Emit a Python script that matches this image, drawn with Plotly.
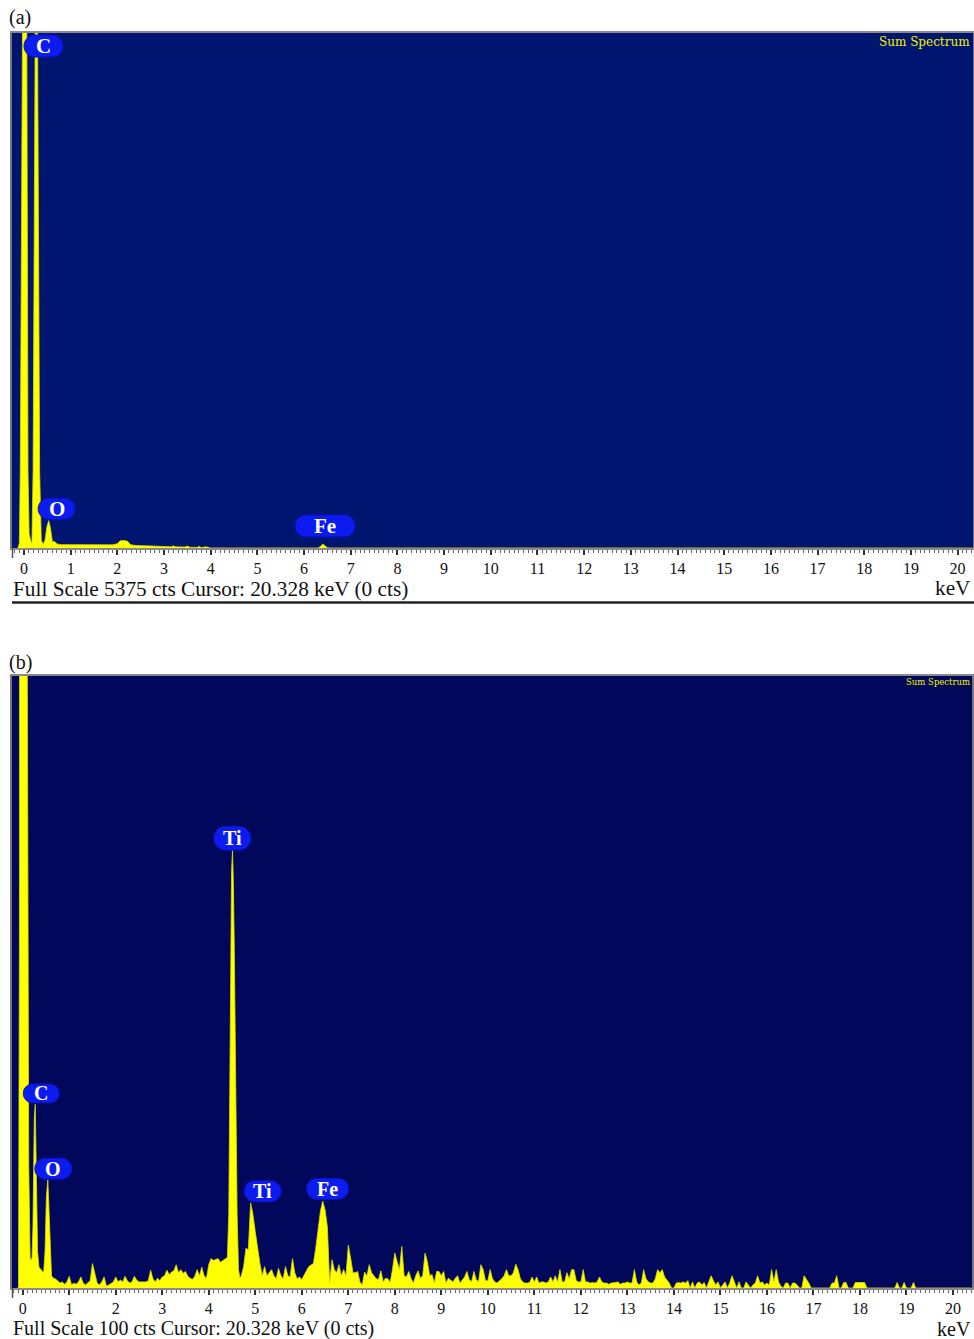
import plotly.graph_objects as go

W, H = 974, 1339

# ---------------- Panel (a): full scale 5375 cts ----------------
energy_a = [-0.13, -0.10, -0.08, -0.04, 0.01, 0.06, 0.086, 0.11, 0.15, 0.17,
            0.195, 0.24, 0.265, 0.29, 0.335, 0.37, 0.41, 0.45, 0.49, 0.53,
            0.57, 0.61, 0.64, 0.67, 0.72, 0.80, 1.00, 1.30, 1.60, 1.90,
            2.00, 2.06, 2.14, 2.22, 2.28, 2.40, 2.70, 3.00, 3.15, 3.20,
            3.25, 3.45, 3.50, 3.55, 3.70, 3.75, 3.80, 3.90, 3.95, 4.00,
            6.30, 6.35, 6.40, 6.45, 6.50, 6.55, 20.40]
counts_a = [0, 50, 800, 5400, 9500, 5400, 800, 150, 60, 60,
            800, 5375, 7900, 5375, 800, 80, 40, 80, 220, 285,
            200, 60, 70, 60, 40, 35, 35, 34, 33, 33,
            45, 75, 78, 70, 35, 25, 22, 18, 12, 22,
            12, 10, 20, 8, 6, 15, 5, 12, 3, 0,
            0, 15, 42, 20, 3, 0, 0]

# ---------------- Panel (b): full scale 100 cts ----------------
energy_b_low = [-0.12, -0.09, -0.07, -0.05, 0.00, 0.06, 0.10, 0.13, 0.16, 0.18,
                0.20, 0.22, 0.25, 0.27, 0.29, 0.32, 0.35, 0.40, 0.45, 0.48,
                0.51, 0.54, 0.56, 0.59, 0.62, 0.66]
counts_b_low = [0, 0, 60, 400, 3000, 400, 100, 20, 5, 4.5,
                5, 10, 28, 30, 20, 6, 3.4, 3.0, 2.5, 6,
                15, 17.7, 14, 6, 2, 1.6]

channel_width = 0.05  # keV per channel

bg1_start = 0.70
counts_b_bg1 = [1.5, 1.2, 0.8, 1.0, 0.6, 1.0,                              # 0.70-0.95
                1.9, 0.5, 0.8, 0.6, 1.0, 1.8, 0.8, 0.5, 0.9, 1.2,          # 1.00-1.45
                4.0, 2.2, 0.8, 0.5, 1.0, 1.8, 0.3, 0.5, 0.8, 1.0,          # 1.50-1.95
                1.8, 1.0, 1.3, 1.0, 1.9, 1.2, 0.8, 1.0, 1.9, 1.3,          # 2.00-2.45
                1.0, 1.0, 0.9, 1.0, 1.2, 2.9, 1.5, 1.0, 1.6, 1.2,          # 2.50-2.95
                1.8, 2.0, 2.9, 2.2, 2.6, 2.8, 3.8, 2.5, 3.0, 2.4,          # 3.00-3.45
                2.7, 1.9, 1.6, 1.4, 1.9, 3.0, 2.0, 3.4, 2.0, 1.6,          # 3.50-3.95
                3.8, 4.8, 4.5, 4.6, 4.8, 4.2, 4.5, 4.8, 5.0]               # 4.00-4.40

energy_b_tika = [4.43, 4.45, 4.47, 4.49, 4.51, 4.53, 4.55, 4.58, 4.61, 4.64, 4.67]
counts_b_tika = [12, 30, 55, 68, 71.5, 66, 55, 30, 12, 3, 1.6]

bg2_start = 4.70
counts_b_bg2 = [
    2.0, 3.5, 6.5, 6.2, 13.9, 12.0,                                                          # 4.70-4.95
    9.2, 6.5, 4.0, 2.0, 3.5, 2.0, 2.5, 3.0, 2.0, 1.5, 3.2, 2.0, 1.5, 3.5, 2.0, 1.8, 4.8, 2.5, 1.5, 1.8,   # 5
    1.4, 2.0, 2.8, 3.5, 3.8, 4.0, 6.5, 9.5, 12.5, 14.2, 12.8, 10.0, 0.8, 4.6, 3.0, 2.5, 3.8, 2.0, 3.0, 2.0,  # 6
    7.0, 4.9, 2.5, 2.5, 2.7, 1.0, 0.5, 2.6, 2.0, 3.8, 2.5, 2.0, 1.5, 1.4, 2.8, 1.0, 1.6, 1.5, 0.9, 3.0,   # 7
    5.7, 4.3, 3.0, 6.8, 2.0, 1.8, 2.7, 1.5, 0.8, 2.0, 2.8, 1.6, 2.0, 5.7, 4.3, 2.0, 2.2, 0.8, 2.7, 2.7,   # 8
    2.0, 2.7, 0.8, 1.6, 1.3, 1.0, 1.6, 2.0, 0.8, 1.4, 1.8, 2.7, 1.4, 1.0, 2.7, 1.4, 1.0, 3.8, 3.0, 1.2,   # 9
    1.2, 3.0, 1.5, 1.0, 0.8, 1.2, 1.5, 2.0, 3.0, 2.0, 2.0, 2.5, 3.9, 3.0, 1.5, 1.0, 0.8, 0.8, 0.9, 1.8,   # 10
    1.0, 1.8, 0.8, 1.0, 1.0, 0.8, 1.0, 1.8, 1.0, 2.0, 1.0, 3.0, 1.0, 1.0, 2.5, 1.5, 3.0, 3.0, 1.2, 1.0,   # 11
    1.0, 3.0, 1.0, 1.0, 0.8, 0.9, 0.8, 1.0, 1.8, 1.0, 0.8, 0.8, 0.6, 0.8, 0.8, 0.9, 1.0, 0.6, 0.8, 0.8,   # 12
    1.0, 0.8, 0.8, 3.0, 1.0, 0.5, 0.8, 3.0, 1.5, 1.0, 0.8, 0.8, 1.5, 3.0, 2.5, 3.0, 1.8, 1.3, 0.8, 0.0,   # 13
    0.0, 0.8, 0.9, 0.8, 1.0, 0.8, 1.2, 0.0, 1.0, 0.0, 0.8, 1.0, 0.5, 0.9, 0.0, 1.0, 2.0, 1.2, 0.5, 1.0,   # 14
    0.0, 0.5, 1.0, 0.0, 0.8, 2.0, 0.8, 0.0, 1.0, 0.0, 0.0, 1.0, 0.5, 0.0, 0.5, 0.8, 2.0, 0.8, 1.0, 0.5,   # 15
    0.8, 0.5, 3.0, 1.0, 3.0, 1.0, 0.3, 0.0, 0.8, 0.8, 0.0, 0.8, 0.8, 0.5, 0.0, 0.0, 2.0, 1.5, 0.8, 0.0,   # 16
    0.0, 0.0, 0.0, 0.0, 0.0, 0.0, 0.0, 0.0, 0.8, 0.8, 2.0, 0.0, 0.0, 0.9, 0.9, 0.0, 0.0, 0.0, 0.9, 0.9,   # 17
    0.9, 0.9, 0.9, 0.0, 0.0, 0.0, 0.0, 0.0, 0.0, 0.0, 0.0, 0.0, 0.0, 0.0, 0.0, 0.0, 0.9, 0.0, 0.0, 0.9,   # 18
    0.0, 0.0, 0.0, 0.9, 0.0, 0.0, 0.0, 0.0, 0.0, 0.0, 0.0, 0.0, 0.0, 0.0, 0.0, 0.0, 0.0, 0.0, 0.0, 0.0,   # 19
    0.0, 0.0, 0.0, 0.0, 0.0, 0.0, 0.0, 0.0, 0.0,                                             # 20.00-20.40
]

# element labels (text, keV, counts)
labels_a_text = ["C", "O", "Fe"]
labels_a_kev = [0.418, 0.700, 6.449]
labels_a_cts = [5239, 409, 230]
labels_b_text = ["Ti", "C", "O", "Ti", "Fe"]
labels_b_kev = [4.506, 0.400, 0.658, 5.160, 6.553]
labels_b_cts = [73.5, 31.8, 19.5, 15.8, 16.2]

tick_vals = list(range(0, 21))
full_scale_a, full_scale_b = 5375, 100
footer_a = "Full Scale 5375 cts Cursor: 20.328 keV (0 cts)"
footer_b = "Full Scale 100 cts Cursor: 20.328 keV (0 cts)"

# ---------------- styles ----------------
pill_size_a = [(39, 22), (37, 21), (60, 22)]
pill_size_b = [(37, 24), (36, 19), (37, 21), (37, 21), (42, 21)]
BG_A = "#001570"
BG_B = "#01075a"
YELLOW = "#ffff00"
PILL = "#0c1cf0"
SERIF = "Liberation Serif"


def channel_energies(start, n):
    return [round(start + channel_width * i, 3) for i in range(n)]


energy_b = (energy_b_low + channel_energies(bg1_start, len(counts_b_bg1))
            + energy_b_tika + channel_energies(bg2_start, len(counts_b_bg2)))
counts_b = counts_b_low + counts_b_bg1 + counts_b_tika + counts_b_bg2


def px_x(p):
    return p / W


def px_y(p):
    return 1 - p / H


def pill_path(w, h):
    r = h / 2.0
    k = 0.5523 * r
    x1 = w / 2.0 - r
    hw = w / 2.0
    return (f"M {-x1},{-r} L {x1},{-r} C {x1 + k},{-r} {hw},{-k} {hw},0 "
            f"C {hw},{k} {x1 + k},{r} {x1},{r} L {-x1},{r} "
            f"C {-x1 - k},{r} {-hw},{k} {-hw},0 C {-hw},{-k} {-x1 - k},{-r} {-x1},{-r} Z")


fig = go.Figure()
fig.add_trace(go.Scatter(x=energy_a, y=counts_a, mode="lines", fill="tozeroy",
                         line=dict(color="#d8e000", width=0.8), fillcolor=YELLOW,
                         xaxis="x", yaxis="y", hoverinfo="skip", showlegend=False))
fig.add_trace(go.Scatter(x=energy_b, y=counts_b, mode="lines", fill="tozeroy",
                         line=dict(color="#d8e000", width=0.8), fillcolor=YELLOW,
                         xaxis="x2", yaxis="y2", hoverinfo="skip", showlegend=False))

xa_common = dict(
    tickmode="array", tickvals=tick_vals, ticktext=[str(t) for t in tick_vals],
    ticks="outside", ticklen=5, tickwidth=1.5, tickcolor="#333",
    minor=dict(dtick=0.1, ticks="outside", ticklen=3, tickcolor="#666", tickwidth=1),
    showline=True, linecolor="#8a8a8a", linewidth=2, mirror=True,
    showgrid=False, zeroline=False,
    tickfont=dict(family=SERIF, size=16, color="#111"),
    ticklabelstandoff=0,
)
ya_common = dict(showticklabels=False, ticks="", showgrid=False, zeroline=False,
                 showline=True, linecolor="#777", linewidth=1.5, mirror=True)

fig.update_layout(
    width=W, height=H, margin=dict(l=0, r=0, t=0, b=0),
    paper_bgcolor="white", plot_bgcolor=BG_A,
    xaxis=dict(domain=[px_x(12), px_x(973)], range=[-0.257, 20.33], anchor="y", **xa_common),
    yaxis=dict(domain=[px_y(548), px_y(33)], range=[0, full_scale_a], anchor="x", **ya_common),
    xaxis2=dict(domain=[px_x(12), px_x(972)], range=[-0.230, 20.409], anchor="y2", **xa_common),
    yaxis2=dict(domain=[px_y(1288), px_y(676)], range=[0, full_scale_b], anchor="x2", **ya_common),
)

shapes = []
# panel (b) darker background
shapes.append(dict(type="rect", xref="x2 domain", yref="y2 domain", x0=0, x1=1, y0=0, y1=1,
                   fillcolor=BG_B, line=dict(width=0), layer="below"))
# panel (a) bottom separator line
shapes.append(dict(type="line", xref="paper", yref="paper", x0=px_x(12), x1=1,
                   y0=px_y(602.5), y1=px_y(602.5), line=dict(color="#222", width=2.5)))
# left strip lines below plot areas
for top, bot in [(548, 558), (1288, 1298)]:
    shapes.append(dict(type="line", xref="paper", yref="paper", x0=px_x(12.5), x1=px_x(12.5),
                       y0=px_y(top), y1=px_y(bot), line=dict(color="#555", width=1.5)))

annotations = []


def add_labels(texts, kevs, cts, sizes, xr, yr, fsize):
    for t, xk, yc, (w, h) in zip(texts, kevs, cts, sizes):
        shapes.append(dict(type="path", xref=xr, yref=yr, xsizemode="pixel", ysizemode="pixel",
                           xanchor=xk, yanchor=yc, path=pill_path(w, h),
                           fillcolor=PILL, line=dict(color="#0a12b8", width=1)))
        annotations.append(dict(x=xk, y=yc, xref=xr, yref=yr, text=f"<b>{t}</b>",
                                showarrow=False, xanchor="center", yanchor="middle",
                                font=dict(family=SERIF, size=fsize, color="white")))


add_labels(labels_a_text, labels_a_kev, labels_a_cts, pill_size_a, "x", "y", 21)
add_labels(labels_b_text, labels_b_kev, labels_b_cts, pill_size_b, "x2", "y2", 20)

# panel tags
annotations.append(dict(x=px_x(7), y=px_y(18), xref="paper", yref="paper", text="(a)",
                        showarrow=False, xanchor="left", yanchor="middle",
                        font=dict(family=SERIF, size=20, color="#111")))
annotations.append(dict(x=px_x(7), y=px_y(662), xref="paper", yref="paper", text="(b)",
                        showarrow=False, xanchor="left", yanchor="middle",
                        font=dict(family=SERIF, size=20, color="#111")))
# Sum Spectrum
annotations.append(dict(x=px_x(972), y=px_y(42), xref="paper", yref="paper", text="Sum Spectrum",
                        showarrow=False, xanchor="right", yanchor="middle",
                        font=dict(family="DejaVu Serif", size=12, color="#f2f200")))
annotations.append(dict(x=px_x(972), y=px_y(682), xref="paper", yref="paper", text="Sum Spectrum",
                        showarrow=False, xanchor="right", yanchor="middle",
                        font=dict(family="DejaVu Serif", size=8.5, color="#f2f200")))
# footers
for txt, yy, ky, fs in [(footer_a, 589, 588, 21.3), (footer_b, 1328, 1329, 20)]:
    annotations.append(dict(x=px_x(11), y=px_y(yy), xref="paper", yref="paper", text=txt,
                            showarrow=False, xanchor="left", yanchor="middle",
                            font=dict(family=SERIF, size=fs, color="#111")))
    annotations.append(dict(x=px_x(973), y=px_y(ky), xref="paper", yref="paper", text="keV",
                            showarrow=False, xanchor="right", yanchor="middle",
                            font=dict(family=SERIF, size=fs, color="#111")))

fig.update_layout(shapes=shapes, annotations=annotations)
fig.write_html("out.html", config={"displayModeBar": False},
               post_script="document.body.style.margin='0';document.body.style.overflow='hidden';")
